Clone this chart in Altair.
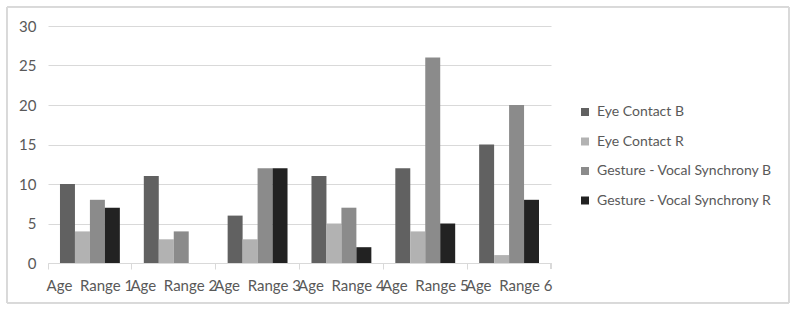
import altair as alt
import pandas as pd

groups = ["Age\u00a0\u00a0Range 1", "Age\u00a0\u00a0Range 2", "Age\u00a0\u00a0Range 3",
          "Age\u00a0\u00a0Range 4", "Age\u00a0\u00a0Range 5", "Age\u00a0\u00a0Range 6"]
series = ["Eye Contact B", "Eye Contact R",
          "Gesture - Vocal Synchrony B", "Gesture - Vocal Synchrony R"]
eye_contact_b = [10, 11, 6, 11, 12, 15]
eye_contact_r = [4, 3, 3, 5, 4, 1]
gesture_b = [8, 4, 12, 7, 26, 20]
gesture_r = [7, 0, 12, 2, 5, 8]
colors = ["#616161", "#b2b2b2", "#8b8b8b", "#222222"]
y_ticks = [0, 5, 10, 15, 20, 25, 30]

rows = []
for name, vals in zip(series, [eye_contact_b, eye_contact_r, gesture_b, gesture_r]):
    for g, v in zip(groups, vals):
        rows.append({"group": g, "series": name, "value": v})
df = pd.DataFrame(rows)

FONT = "Lato"
W, H = 503, 237

bars = alt.Chart(df).mark_bar().encode(
    x=alt.X("group:N", sort=groups, title=None,
            scale=alt.Scale(paddingInner=0, paddingOuter=0),
            axis=alt.Axis(labelAngle=0, labelFontSize=15, labelColor="#595959",
                          labelFont=FONT, labelPadding=9, domainColor="#d9d9d9",
                          tickColor="#d9d9d9", tickSize=6, bandPosition=0,
                          labelBound=False, labelOverlap=False, grid=False)),
    xOffset=alt.XOffset("series:N", sort=series,
                        scale=alt.Scale(paddingInner=0, paddingOuter=0.8)),
    y=alt.Y("value:Q", title=None,
            scale=alt.Scale(domain=[0, 30], nice=False),
            axis=alt.Axis(values=y_ticks, labelFontSize=15, labelColor="#595959",
                          labelFont=FONT, labelPadding=12, domain=False, ticks=False,
                          gridColor="#d9d9d9", gridWidth=1)),
    color=alt.Color("series:N", sort=series,
                    scale=alt.Scale(domain=series, range=colors),
                    legend=alt.Legend(title=None, orient="none", legendX=530,
                                      legendY=79, symbolType="square",
                                      symbolSize=64, symbolStrokeWidth=0,
                                      labelFontSize=14, labelFont=FONT,
                                      labelColor="#595959", rowPadding=15.5,
                                      labelOffset=5, labelLimit=0)),
)

# tick at the right end of the category axis
end_tick = alt.Chart(df).mark_rule(color="#d9d9d9").encode(
    x=alt.value(W), y=alt.value(H), y2=alt.value(H + 6))

# light frame around the whole chart
frame = alt.Chart(df).mark_rect(fill=None, stroke="#d9d9d9", strokeWidth=1).encode(
    x=alt.value(-41), x2=alt.value(741), y=alt.value(-19), y2=alt.value(277))

chart = alt.layer(frame, bars, end_tick).properties(
    width=W, height=H,
    autosize=alt.AutoSizeParams(type="none"),
    padding={"left": 48, "top": 26, "right": 245, "bottom": 49},
    background="white",
).configure_view(stroke=None)

chart.save("out.html", embed_options={"renderer": "svg", "actions": False})
